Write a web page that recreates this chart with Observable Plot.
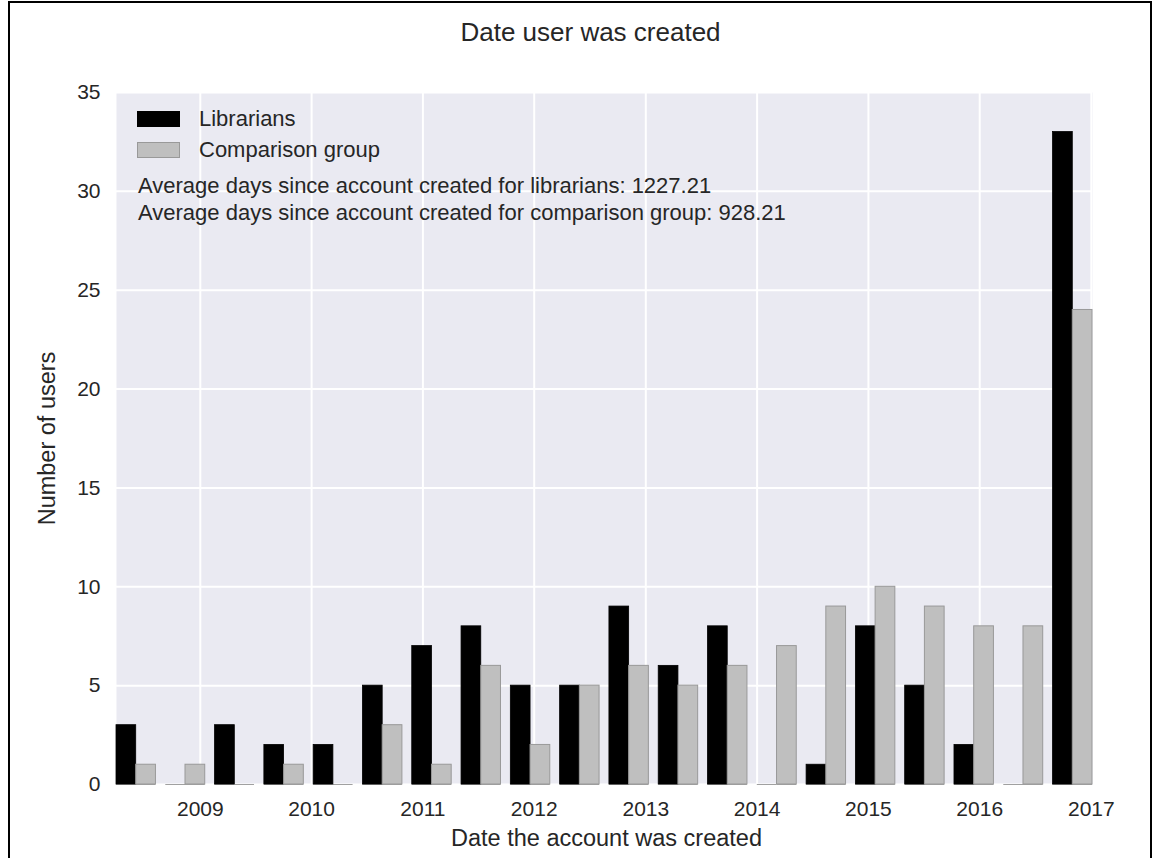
<!DOCTYPE html>
<html>
<head>
<meta charset="utf-8">
<script src="https://cdn.jsdelivr.net/npm/d3@7"></script>
<script src="https://cdn.jsdelivr.net/npm/@observablehq/plot@0.6"></script>
<style>
  html, body { margin: 0; padding: 0; background: #fff; }
  #wrap { position: relative; width: 1156px; height: 858px; overflow: hidden;
          font-family: "Liberation Sans", Arial, sans-serif; color: #262626; }
  #border { position: absolute; left: 8px; top: 1px; width: 1140px; height: 870px;
            border-left: 2px solid #000; border-top: 2px solid #000; border-right: 2px solid #000; }
  #chart { position: absolute; left: 0; top: 0; }
  .leg { position: absolute; font-size: 22px; line-height: 22px; white-space: nowrap; }
  .sw { position: absolute; width: 43px; height: 16px; box-sizing: border-box; }
</style>
</head>
<body>
<div id="wrap">
  <div id="chart"></div>
  <div class="sw" style="left:137px; top:111px; background:#000; border:1px solid #000;"></div>
  <div class="sw" style="left:137px; top:142px; background:#bfbfbf; border:1px solid #999;"></div>
  <div class="leg" id="legL" style="left:199px; top:108px;"></div>
  <div class="leg" id="legC" style="left:199px; top:139px;"></div>
  <div class="leg" id="avgL" style="left:138px; top:175px;"></div>
  <div class="leg" id="avgC" style="left:138px; top:202px;"></div>
  <div id="border"></div>
</div>
<script>
// ---- data ----
const title = "Date user was created";
const xLabel = "Date the account was created";
const yLabel = "Number of users";
const seriesNames = ["Librarians", "Comparison group"];
const notes = [
  "Average days since account created for librarians: 1227.21",
  "Average days since account created for comparison group: 928.21"
];
const binFirst = "2008-03-16";   // first histogram bin edge
const binDays = 161.65;          // width of each bin in days
const librarians = [3, 0, 3, 2, 2, 5, 7, 8, 5, 5, 9, 6, 8, 0, 1, 8, 5, 2, 0, 33];
const comparison = [1, 1, 0, 1, 0, 3, 1, 6, 2, 5, 6, 5, 6, 7, 9, 10, 9, 8, 8, 24];
const yearTicks = [2009, 2010, 2011, 2012, 2013, 2014, 2015, 2016, 2017];
const yTicks = [0, 5, 10, 15, 20, 25, 30, 35];

// ---- build table (matplotlib-style grouped histogram: 0.8 of bin, 0.4 each) ----
const DAY = 86400000;
const t0 = new Date(binFirst + "T00:00:00Z").getTime();
const bw = binDays * DAY;
const rows = [];
librarians.forEach((v, i) => {
  const s = t0 + i * bw;
  rows.push({series: seriesNames[0], x1: new Date(s + 0.1 * bw), x2: new Date(s + 0.5 * bw), y: v});
  rows.push({series: seriesNames[1], x1: new Date(s + 0.5 * bw), x2: new Date(s + 0.9 * bw), y: comparison[i]});
});
const xDomain = [new Date(t0 + 0.1 * bw), new Date(t0 + (librarians.length - 1) * bw + 0.9 * bw)];
const ticks = yearTicks.map(y => new Date(Date.UTC(y, 0, 1)));

const font = '"Liberation Sans", Arial, sans-serif';
const chart = Plot.plot({
  width: 1156,
  height: 858,
  marginLeft: 116,
  marginRight: 64,
  marginTop: 92,
  marginBottom: 74,
  style: {fontFamily: font, fontSize: "21px", color: "#262626", background: "transparent"},
  x: {type: "utc", domain: xDomain},
  y: {domain: [0, 35]},
  marks: [
    Plot.frame({fill: "#EAEAF2", stroke: "none"}),
    Plot.gridX(ticks, {stroke: "#fff", strokeOpacity: 1, strokeWidth: 2}),
    Plot.gridY(yTicks, {stroke: "#fff", strokeOpacity: 1, strokeWidth: 2}),
    Plot.ruleY(rows, {y: 0, x1: "x1", x2: "x2", stroke: "#a0a0a0", strokeWidth: 1}),
    Plot.rectY(rows.filter(d => d.series === seriesNames[0]), {x1: "x1", x2: "x2", y: "y", fill: "#000", stroke: "#000", strokeWidth: 0.8}),
    Plot.rectY(rows.filter(d => d.series === seriesNames[1]), {x1: "x1", x2: "x2", y: "y", fill: "#bfbfbf", stroke: "#999", strokeWidth: 1}),
    Plot.axisX(ticks, {tickSize: 0, tickPadding: 17, tickFormat: d3.utcFormat("%Y"), label: null, fontSize: 21}),
    Plot.axisY(yTicks, {tickSize: 0, tickPadding: 16, label: null, fontSize: 21}),
    Plot.text([title], {frameAnchor: "top", dx: -14, dy: -60, textAnchor: "middle", lineAnchor: "middle", fontSize: 26, fill: "#262626"}),
    Plot.text([xLabel], {frameAnchor: "bottom", dx: 2, dy: 54, textAnchor: "middle", lineAnchor: "middle", fontSize: 23.5, fill: "#262626"}),
    Plot.text([yLabel], {frameAnchor: "left", dx: -69, rotate: -90, textAnchor: "middle", lineAnchor: "middle", fontSize: 23.5, fill: "#262626"})
  ]
});
document.getElementById("chart").appendChild(chart);
document.getElementById("legL").textContent = seriesNames[0];
document.getElementById("legC").textContent = seriesNames[1];
document.getElementById("avgL").textContent = notes[0];
document.getElementById("avgC").textContent = notes[1];
</script>
</body>
</html>
